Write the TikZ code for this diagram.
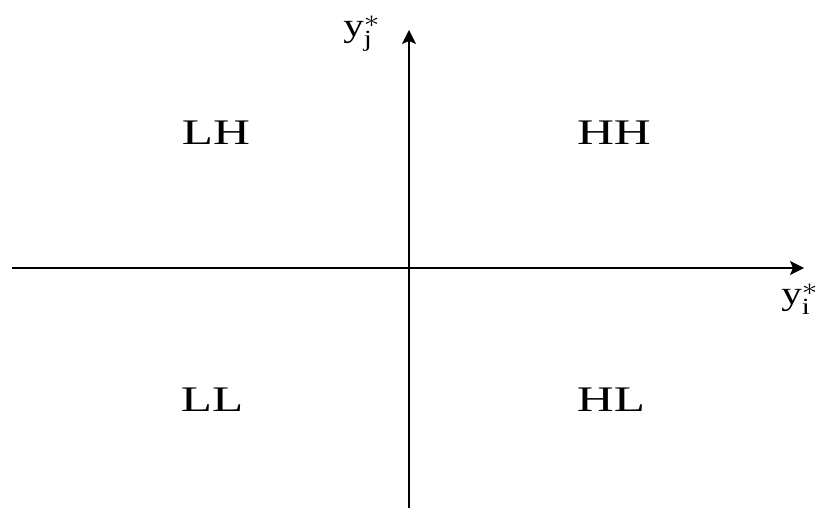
\documentclass[tikz,border=0pt]{standalone}
\usepackage{amsmath}
\usepackage{fontspec}
\setmainfont{Liberation Serif}
\usetikzlibrary{arrows.meta,positioning}

\begin{document}
\begin{tikzpicture}[
  x=1pt, y=1pt, >={Stealth[length=14pt,width=14pt,inset=3pt]},
  axis/.style={->, line width=1.3pt},
  quad/.style={font=\fontsize{36}{36}\selectfont, xscale=1.42, transform shape, inner sep=0pt},
  axlabel/.style={font=\fontsize{33}{33}\selectfont, xscale=1.25, transform shape, inner sep=0pt},
]
  \useasboundingbox (0,0) rectangle (817,512);

  % axes
  \coordinate (xs) at (12,244);
  \coordinate (xe) at (804,244);
  \coordinate (ys) at (409,4);
  \coordinate (ye) at (409,482);
  \draw[axis] (xs) -- (xe);
  \draw[axis] (ys) -- (ye);

  \node[axlabel, anchor=west] (yj) at (343,478) {y$_{\text{j}}^{*}$};
  \node[axlabel, anchor=west] (yi) at (781,213) {y$_{\text{i}}^{*}$};

  % quadrants
  \node[quad] (lh) at (216,379) {LH};
  \node[quad] (hh) at (614,379) {HH};
  \node[quad] (ll) at (212,112) {LL};
  \node[quad] (hl) at (611,112) {HL};
\end{tikzpicture}
\end{document}
